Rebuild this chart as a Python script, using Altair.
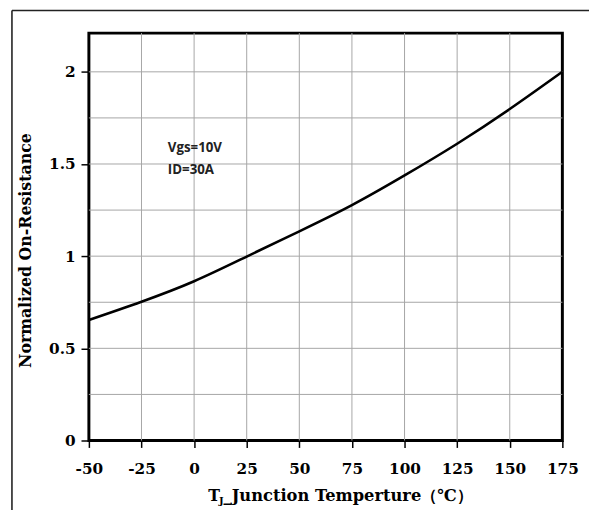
import altair as alt
import pandas as pd

# ---- data ----
temps = [-50, -25, 0, 25, 50, 75, 100, 125, 150, 175]
resistance = [0.654, 0.753, 0.864, 0.998, 1.135, 1.277, 1.438, 1.610, 1.798, 2.0]

x_ticks = [-50, -25, 0, 25, 50, 75, 100, 125, 150, 175]
y_ticks = [0, 0.5, 1, 1.5, 2]
x_grid = [-25, 0, 25, 50, 75, 100, 125, 150]
y_grid = [0.25, 0.5, 0.75, 1.0, 1.25, 1.5, 1.75, 2.0]

note_lines = ["Vgs=10V", "ID=30A"]
note_x = [-12.5, -12.5]
note_y = [1.567, 1.444]

y_title = "Normalized On-Resistance"
x_title_main = "T"
x_title_sub = "J"
x_title_rest = "_Junction Temperture（℃）"

XDOM = [-50, 175]
YDOM = [0, 2.21]

df = pd.DataFrame({"t": temps, "r": resistance})
xs = alt.Scale(domain=XDOM, nice=False, zero=False)
ys = alt.Scale(domain=YDOM, nice=False, zero=False)

serif = "DejaVu Serif"

x_axis = alt.Axis(
    values=x_ticks, title=None, grid=False, domain=False,
    labelExpr="'' + datum.value",
    labelFont=serif, labelFontWeight="bold", labelFontSize=15.5,
    labelColor="black", tickColor="black", tickSize=7, tickWidth=1.5,
    labelPadding=14, labelFlush=False, labelOverlap=False,
)
y_axis = alt.Axis(
    values=y_ticks, title=y_title, grid=False, domain=False,
    labelExpr="'' + datum.value",
    labelFont=serif, labelFontWeight="bold", labelFontSize=15.5,
    labelColor="black", tickColor="black", tickSize=8, tickWidth=1.5,
    labelPadding=6, labelFlush=False, labelOverlap=False,
    titleFont=serif, titleFontWeight="bold", titleFontSize=16,
    titleColor="black", titleX=-64, titleY=220, titleAngle=270,
    titleAlign="center", titleBaseline="middle",
)

vgrid = alt.Chart(pd.DataFrame({"g": x_grid})).mark_rule(
    color="#a6a6a6", strokeWidth=1
).encode(x=alt.X("g:Q", scale=xs, axis=x_axis))

hgrid = alt.Chart(pd.DataFrame({"g": y_grid})).mark_rule(
    color="#a6a6a6", strokeWidth=1
).encode(y=alt.Y("g:Q", scale=ys, axis=y_axis))

line = alt.Chart(df).mark_line(
    color="black", strokeWidth=2.6, interpolate="natural"
).encode(
    x=alt.X("t:Q", scale=xs, axis=x_axis),
    y=alt.Y("r:Q", scale=ys, axis=y_axis),
)

notes = alt.Chart(pd.DataFrame({"x": note_x, "y": note_y, "s": note_lines})).mark_text(
    align="left", baseline="alphabetic", font="Open Sans",
    fontWeight="bold", fontSize=13.5, color="#222222"
).encode(
    x=alt.X("x:Q", scale=xs, axis=x_axis),
    y=alt.Y("y:Q", scale=ys, axis=y_axis),
    text="s:N",
)

t_main = alt.Chart(pd.DataFrame({"s": [x_title_main]})).mark_text(
    align="left", baseline="alphabetic", font=serif, fontWeight="bold",
    fontSize=16, color="black"
).encode(x=alt.value(121), y=alt.value(474), text="s:N")

t_sub = alt.Chart(pd.DataFrame({"s": [x_title_sub]})).mark_text(
    align="left", baseline="alphabetic", font=serif, fontWeight="bold",
    fontSize=10, color="black"
).encode(x=alt.value(132), y=alt.value(477), text="s:N")

t_rest = alt.Chart(pd.DataFrame({"s": [x_title_rest]})).mark_text(
    align="left", baseline="alphabetic", font=serif, fontWeight="bold",
    fontSize=16.5, color="black"
).encode(x=alt.value(136.5), y=alt.value(474), text="s:N")

frame_left = alt.Chart(pd.DataFrame({"a": [0]})).mark_rule(
    color="#222222", strokeWidth=1.6
).encode(x=alt.value(-78), y=alt.value(-23), y2=alt.value(520))

frame_top = alt.Chart(pd.DataFrame({"a": [0]})).mark_rule(
    color="#222222", strokeWidth=1.6
).encode(x=alt.value(-78), x2=alt.value(560), y=alt.value(-23))

chart = alt.layer(
    vgrid, hgrid, line, notes, t_main, t_sub, t_rest, frame_left, frame_top
).properties(
    width=480, height=413,
    padding={"left": 82, "top": 22, "right": 27, "bottom": 68},
    autosize=alt.AutoSizeParams(type="none"),
    background="white",
).configure_view(
    stroke="black", strokeWidth=3
)

chart.save("out.html", embed_options={"renderer": "svg", "actions": False})
